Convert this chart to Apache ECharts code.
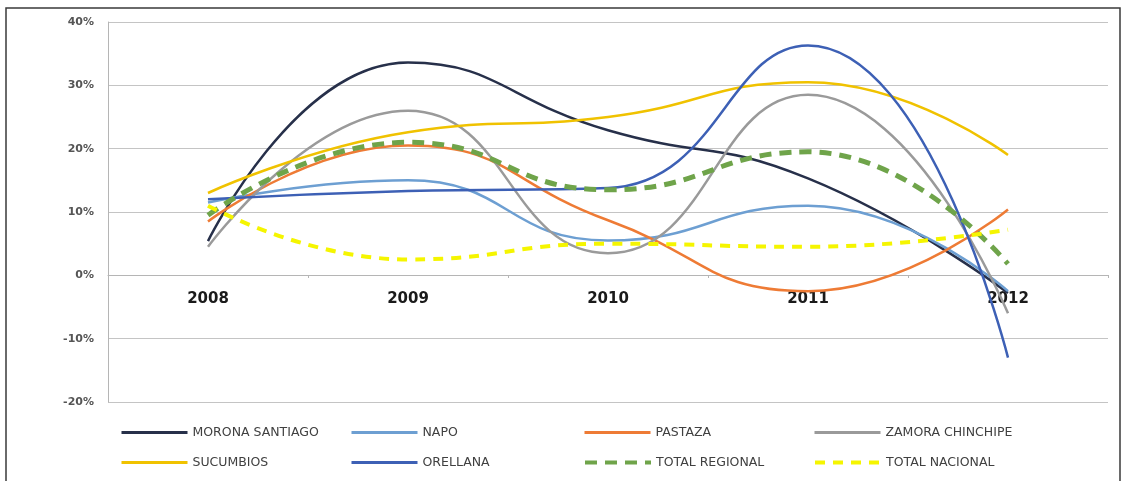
<!DOCTYPE html>
<html>
<head>
<meta charset="utf-8">
<title>Variación anual por provincia</title>
<script src="https://cdn.jsdelivr.net/npm/echarts@6/dist/echarts.min.js"></script>
<style>
    html, body { margin: 0; padding: 0; background: #fff; }
    #chart { width: 1125px; height: 481px; }
</style>
</head>
<body>
<div id="chart"></div>
<script>
// años
const years = ['2008', '2009', '2010', '2011', '2012']
const yTicks = [-20, -10, 0, 10, 20, 30, 40] // %

// variación (%)
const moronaSantiago = [5.4, 33.6, 22.9, 15.3, -2.8]
const napo = [11.5, 15.0, 5.5, 11.0, -2.5]
const pastaza = [8.5, 20.5, 8.7, -2.5, 10.4]
const zamoraChinchipe = [4.5, 26.0, 3.5, 28.5, -6.0]
const sucumbios = [13.0, 22.6, 25.0, 30.5, 19.0]
const orellana = [12.0, 13.3, 13.8, 36.3, -13.0]
const totalRegional = [9.5, 21.0, 13.5, 19.5, 1.8]
const totalNacional = [11.0, 2.5, 5.0, 4.5, 7.2]

const chart = echarts.init(document.getElementById('chart'))

function line(name, data, color, width, dash) {
    return {
        name: name,
        type: 'line',
        data: data,
        smooth: 0.5,
        symbol: 'none',
        lineStyle: {
            color: color,
            width: width,
            type: dash || 'solid',
        },
        itemStyle: { color: color },
        z: 3,
    }
}

const series = [
    line('MORONA SANTIAGO', moronaSantiago, '#27304a', 2.5),
    line('NAPO', napo, '#6d9fd2', 2.5),
    line('PASTAZA', pastaza, '#ee7b35', 2.5),
    line('ZAMORA CHINCHIPE', zamoraChinchipe, '#9a9a9a', 2.5),
    line('SUCUMBIOS', sucumbios, '#f0c200', 2.5),
    line('ORELLANA', orellana, '#3d60b5', 2.5),
    line('TOTAL REGIONAL', totalRegional, '#6fa44a', 5, [12, 8]),
    line('TOTAL NACIONAL', totalNacional, '#f5f500', 4, [10, 8]),
]

// leyenda en 4 columnas x 2 filas
const legendCols = [115, 345, 578, 808]
const legendRows = [421, 451]
const legends = series.map((s, i) => ({
    data: [s.name],
    left: legendCols[i % 4],
    top: legendRows[Math.floor(i / 4)],
    itemWidth: 66,
    itemHeight: 14,
    itemGap: 0,
    itemStyle: { opacity: 0 }, // sin marcador, solo la línea
    lineStyle: { width: s.lineStyle.type === 'solid' ? 3 : 4 },
    textStyle: {
        fontFamily: 'DejaVu Sans',
        fontSize: 12.5,
        color: '#404040',
    },
}))

chart.setOption({
    animation: false,
    backgroundColor: '#fff',
    graphic: [
        {
            type: 'rect',
            shape: { x: 6, y: 8, width: 1114, height: 480 },
            style: { fill: 'none', stroke: '#3a3a3a', lineWidth: 1.5 },
            silent: true,
        },
    ],
    grid: {
        left: 108,
        right: 17,
        top: 22,
        bottom: 79,
    },
    legend: legends,
    xAxis: {
        type: 'category',
        data: years,
        boundaryGap: true,
        position: 'bottom',
        offset: -127, // eje en 0%
        axisLine: {
            onZero: false,
            lineStyle: { color: '#b5b5b5', width: 1 },
        },
        axisTick: {
            show: true,
            length: 3,
            lineStyle: { color: '#b5b5b5' },
        },
        axisLabel: {
            margin: 17,
            fontFamily: 'DejaVu Sans',
            fontWeight: 'bold',
            fontSize: 15,
            color: '#1a1a1a',
        },
    },
    yAxis: {
        type: 'value',
        min: yTicks[0],
        max: yTicks[yTicks.length - 1],
        interval: 10,
        axisLine: {
            show: true,
            lineStyle: { color: '#b5b5b5' },
        },
        axisTick: { show: false },
        splitLine: {
            lineStyle: { color: '#c4c4c4', width: 1 },
        },
        axisLabel: {
            formatter: '{value}%',
            margin: 14,
            fontFamily: 'DejaVu Sans',
            fontWeight: 'bold',
            fontSize: 11,
            color: '#555',
        },
    },
    series: series,
})
</script>
</body>
</html>
